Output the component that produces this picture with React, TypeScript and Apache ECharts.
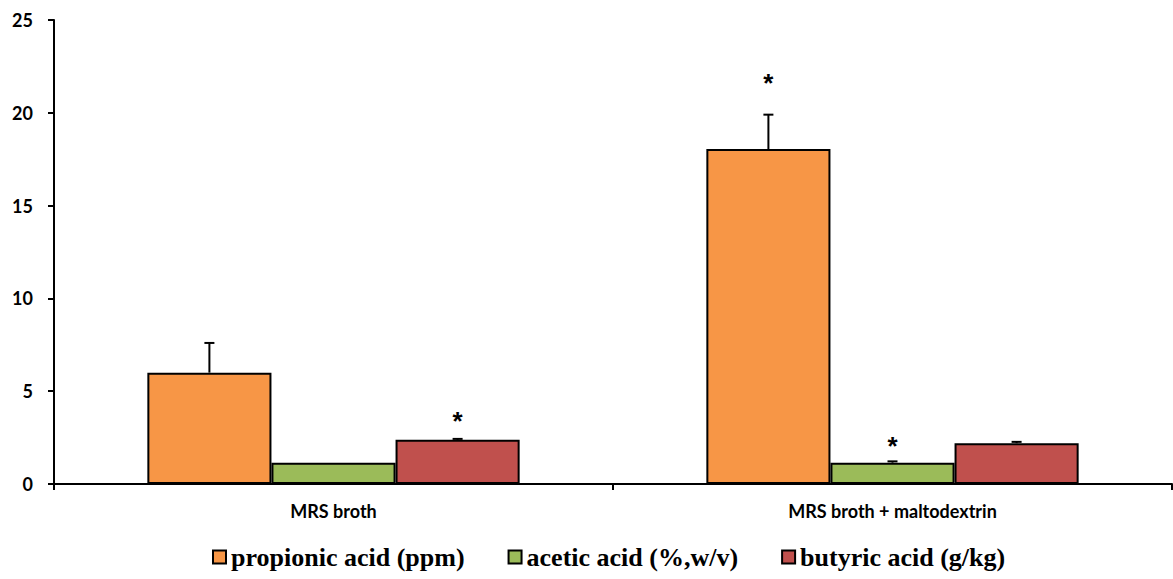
import React, { useEffect, useRef } from "react";
import * as echarts from "echarts";

const categories = ["MRS broth", "MRS broth + maltodextrin"];
const seriesNames = ["propionic acid (ppm)", "acetic acid (%,w/v)", "butyric acid (g/kg)"];
const propionic = [6.0, 18.05];
const acetic = [1.15, 1.15];
const butyric = [2.38, 2.2];
const propionicErr = [1.6, 1.85];
const aceticErr = [0, 0.07];
const butyricErr = [0.05, 0.07];
// significance star heights (value units), null = no star
const propionicStar = [null, 21.8];
const aceticStar = [null, 2.28];
const butyricStar = [3.6, null];
const yTicks = { min: 0, max: 25, interval: 5 };

const colors = ["#F79646", "#9BBB59", "#C0504D"];
const GAP = 0.334;

export default function App() {
  const ref = useRef<HTMLDivElement>(null);
  useEffect(() => {
    document.body.style.margin = "0";
    const chart = echarts.init(ref.current!, null, { renderer: "svg" });
    const values = [propionic, acetic, butyric];
    const errs = [propionicErr, aceticErr, butyricErr];
    const stars = [propionicStar, aceticStar, butyricStar];

    const errData: any[] = [];
    values.forEach((arr, si) =>
      arr.forEach((v, ci) => {
        if (errs[si][ci] > 0) errData.push([ci, v, errs[si][ci], si]);
      })
    );
    const starData: any[] = [];
    stars.forEach((arr, si) =>
      arr.forEach((v, ci) => {
        if (v != null) starData.push([ci, v, si]);
      })
    );

    const xFor = (api: any, cat: number, si: number) => {
      const c = api.coord([cat, 0]);
      const band = api.size([1, 0])[0];
      const groupW = band * (1 - GAP);
      const bw = groupW / 3;
      return c[0] - groupW / 2 + bw * (si + 0.5);
    };

    chart.setOption({
      animation: false,
      grid: { left: 54, right: 1, top: 20, bottom: 95 },
      legend: {
        data: seriesNames,
        left: 207,
        top: 539,
        itemGap: 43,
        itemWidth: 13,
        itemHeight: 13,
        icon: "rect",
        textStyle: {
          fontFamily: "Liberation Serif",
          fontWeight: "bold",
          fontSize: 26,
          color: "#000",
        },
      },
      xAxis: {
        type: "category",
        data: categories,
        axisLine: { lineStyle: { color: "#000", width: 2 } },
        axisTick: { show: true, length: 6, lineStyle: { color: "#000", width: 2 } },
        axisLabel: {
          color: "#000",
          fontFamily: "Lato",
          fontWeight: "bold",
          fontSize: 18,
          margin: 18,
        },
      },
      yAxis: {
        type: "value",
        min: yTicks.min,
        max: yTicks.max,
        interval: yTicks.interval,
        splitLine: { show: false },
        axisLine: { show: true, lineStyle: { color: "#000", width: 2 } },
        axisTick: { show: true, length: 6, lineStyle: { color: "#000", width: 2 } },
        axisLabel: {
          color: "#000",
          fontFamily: "Lato",
          fontWeight: "bold",
          fontSize: 18,
          margin: 21,
        },
      },
      series: [
        ...values.map((arr, si) => ({
          name: seriesNames[si],
          type: "bar",
          data: arr,
          barGap: "0%",
          barCategoryGap: GAP * 100 + "%",
          itemStyle: { color: colors[si], borderColor: "#000", borderWidth: 2 },
        })),
        {
          type: "custom",
          z: 5,
          data: errData,
          renderItem: (params: any, api: any) => {
            const cat = api.value(0);
            const val = api.value(1);
            const err = api.value(2);
            const si = api.value(3);
            const x = xFor(api, cat, si);
            const y0 = api.coord([cat, val])[1];
            const y1 = api.coord([cat, val + err])[1];
            return {
              type: "group",
              children: [
                { type: "line", shape: { x1: x, y1: y0, x2: x, y2: y1 }, style: { stroke: "#000", lineWidth: 2 } },
                { type: "line", shape: { x1: x - 5, y1: y1, x2: x + 5, y2: y1 }, style: { stroke: "#000", lineWidth: 2 } },
              ],
            };
          },
        },
        {
          type: "custom",
          z: 6,
          data: starData,
          renderItem: (params: any, api: any) => {
            const cat = api.value(0);
            const v = api.value(1);
            const si = api.value(2);
            const x = xFor(api, cat, si);
            const y = api.coord([cat, v])[1];
            return {
              type: "text",
              x,
              y: y + 4,
              style: {
                text: "*",
                fontFamily: "Liberation Sans",
                fontWeight: "bold",
                fontSize: 26,
                fill: "#000",
                align: "center",
                verticalAlign: "middle",
              },
            };
          },
        },
      ],
    });
    return () => chart.dispose();
  }, []);
  return <div ref={ref} style={{ width: 1173, height: 579 }} />;
}
